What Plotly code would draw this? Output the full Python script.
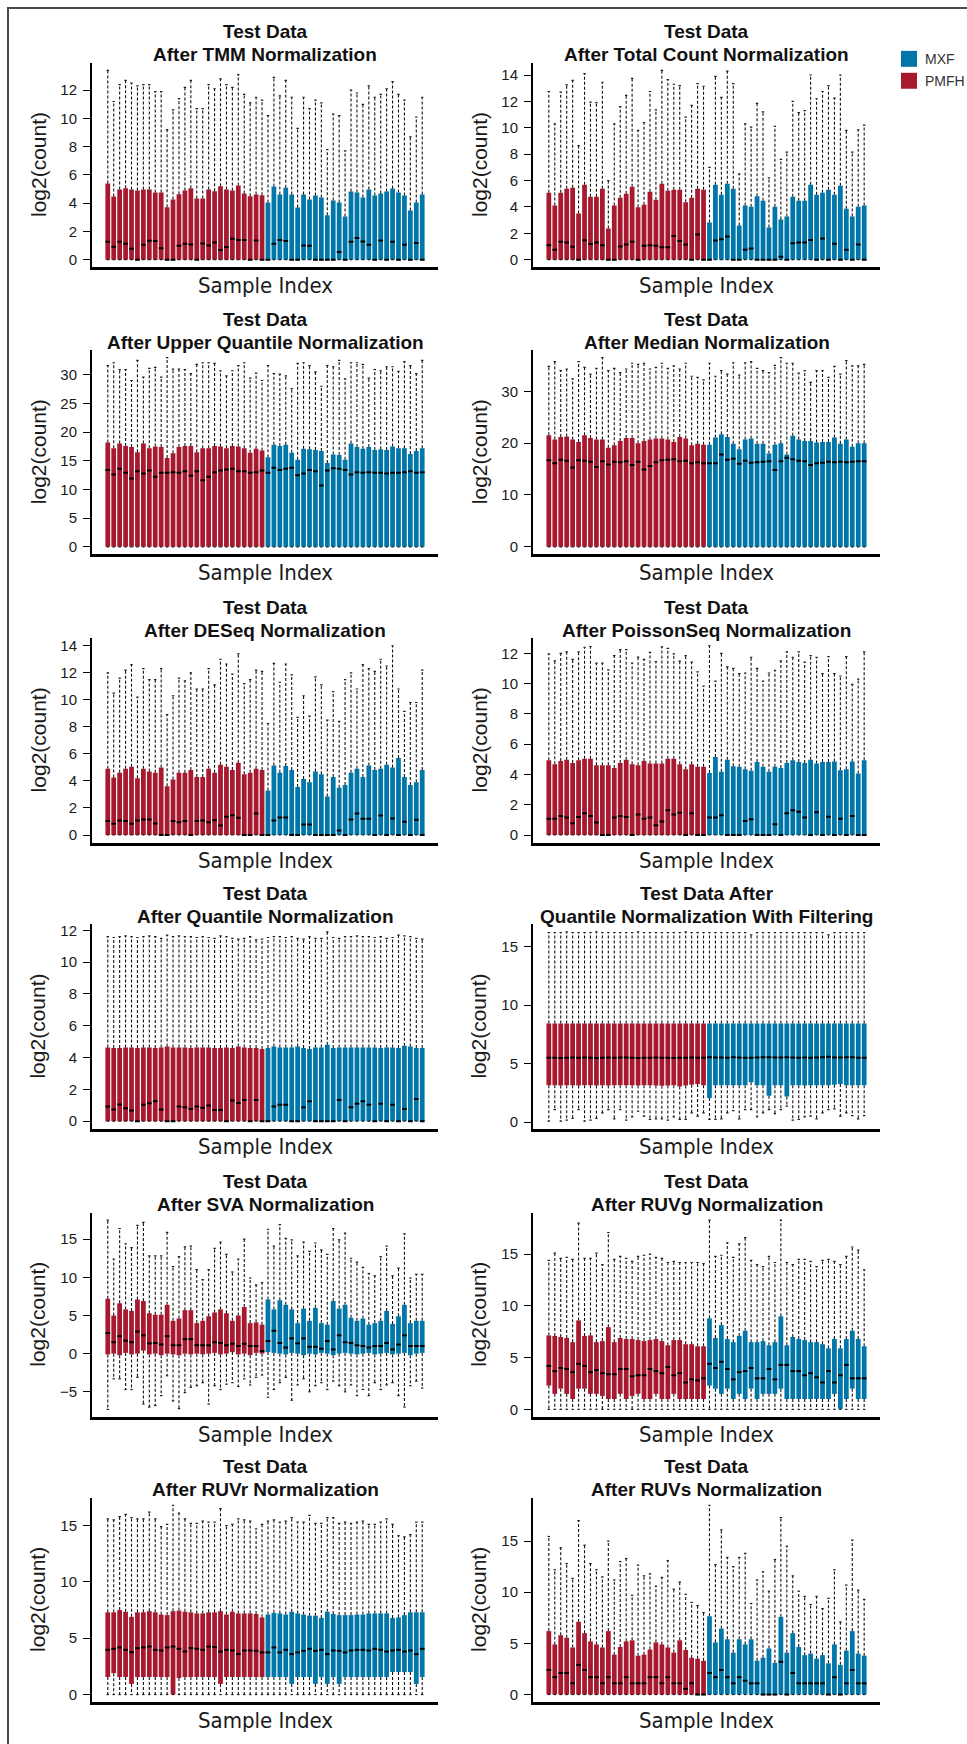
import plotly.graph_objects as go

# ---------------------------------------------------------------------------
# Per-sample box statistics of log2(count) for 27 PMFH and 27 MXF samples.
# Each list holds 27 PMFH values followed by 27 MXF values.
# ---------------------------------------------------------------------------
groups = ["PMFH"] * 27 + ["MXF"] * 27
group_colors = {"PMFH": "#A8182F", "MXF": "#0076A9"}
legend_order = ["MXF", "PMFH"]

zero_floor = [
    0, 0, 0, 0, 0, 0, 0, 0, 0, 0, 0, 0, 0, 0, 0, 0, 0, 0, 0, 0, 0, 0, 0, 0, 0, 0, 0,
    0, 0, 0, 0, 0, 0, 0, 0, 0, 0, 0, 0, 0, 0, 0, 0, 0, 0, 0, 0, 0, 0, 0, 0, 0, 0, 0,
]

# TMM
tmm_upper = [13.4, 11.2, 12.4, 12.7, 12.5, 12.3, 12.4, 12.4, 11.9, 11.9, 9.2, 10.6, 11.4, 12.2, 12.7, 10.7, 10.7, 12.4, 12.1, 12.8, 12.4, 12.2, 13.1, 11.7, 11.1, 11.5, 11.3,
             10.2, 12.9, 11.6, 12.7, 11.5, 9.3, 11.5, 10.7, 11.3, 11.1, 7.8, 10.3, 10.2, 7.7, 12.0, 11.8, 11.0, 12.3, 11.5, 11.7, 12.1, 12.6, 11.7, 11.3, 8.7, 10.1, 11.5]
tmm_q3 = [5.39, 4.47, 4.97, 5.06, 4.96, 4.89, 4.96, 4.96, 4.75, 4.75, 3.72, 4.26, 4.64, 4.89, 5.06, 4.33, 4.33, 4.96, 4.85, 5.20, 4.96, 4.89, 5.25, 4.68, 4.49, 4.61, 4.56,
          4.05, 5.18, 4.61, 5.10, 4.61, 3.69, 4.61, 4.26, 4.54, 4.40, 3.15, 4.19, 4.05, 3.06, 4.82, 4.75, 4.40, 4.96, 4.54, 4.68, 4.82, 5.04, 4.75, 4.54, 3.48, 4.05, 4.61]
tmm_med = [1.27, 0.92, 1.27, 1.13, 0.78, 0.0, 1.06, 1.34, 1.32, 0.80, 0.0, 0.0, 0.99, 1.13, 1.08, 0.0, 1.15, 1.01, 1.22, 0.68, 0.89, 1.48, 1.39, 1.39, 0.0, 1.36, 0.0,
           0.0, 1.13, 1.39, 1.32, 0.0, 0.0, 1.01, 0.99, 0.0, 0.0, 0.0, 0.0, 0.54, 0.0, 1.27, 1.53, 1.29, 1.06, 0.0, 1.36, 0.0, 1.27, 0.0, 1.06, 0.0, 1.18, 0.0]

# Total count
tc_upper = [12.75, 10.3, 12.7, 13.25, 13.6, 8.65, 14.1, 11.95, 11.9, 13.45, 6.0, 10.3, 11.6, 12.45, 13.75, 9.8, 10.4, 12.75, 11.35, 14.35, 13.65, 13.3, 13.2, 10.8, 11.7, 13.35, 13.15,
            7.0, 13.9, 12.3, 14.3, 13.35, 6.5, 10.3, 10.05, 11.85, 11.2, 6.2, 10.1, 7.6, 8.15, 12.0, 11.15, 11.3, 14.0, 12.2, 12.75, 13.2, 12.25, 14.0, 9.8, 8.15, 9.85, 10.2]
tc_q3 = [5.08, 4.10, 5.08, 5.38, 5.45, 3.50, 5.68, 4.77, 4.77, 5.38, 2.36, 4.10, 4.70, 5.00, 5.53, 3.97, 4.17, 5.15, 4.55, 5.75, 5.23, 5.30, 5.30, 4.35, 4.70, 5.38, 5.30,
         2.81, 5.68, 4.92, 5.75, 5.38, 2.59, 4.10, 4.02, 4.80, 4.47, 2.44, 4.02, 3.04, 3.27, 4.77, 4.47, 4.47, 5.68, 4.92, 5.08, 5.30, 4.92, 5.60, 3.87, 3.27, 4.02, 4.10]
tc_med = [1.10, 0.75, 1.35, 1.30, 0.98, 0.0, 1.48, 1.18, 1.30, 1.10, 0.0, 0.0, 1.00, 1.15, 1.36, 0.0, 1.05, 1.10, 1.05, 0.95, 0.95, 1.80, 1.42, 1.15, 0.0, 1.90, 0.0,
          0.0, 1.45, 1.55, 1.75, 0.0, 0.0, 0.75, 0.85, 0.0, 0.0, 0.0, 0.0, 0.22, 0.0, 1.25, 1.30, 1.30, 1.50, 0.0, 1.60, 0.0, 1.20, 0.0, 0.75, 0.0, 1.15, 0.0]

# Upper quantile
uq_upper = [31.6, 32.1, 30.9, 30.9, 29.0, 32.5, 29.6, 31.1, 31.3, 29.6, 33.0, 31.0, 31.0, 30.9, 30.2, 31.8, 32.1, 32.1, 32.0, 30.7, 29.8, 30.7, 31.6, 32.1, 29.4, 30.3, 29.0,
            31.6, 30.2, 30.1, 29.8, 27.6, 32.0, 32.1, 31.6, 30.5, 28.0, 31.6, 31.4, 32.5, 29.3, 32.1, 32.1, 31.8, 29.4, 30.9, 30.7, 31.4, 31.4, 30.6, 32.3, 31.6, 30.2, 32.5]
uq_q3 = [18.2, 17.2, 18.0, 17.6, 17.4, 16.5, 18.0, 17.2, 17.5, 17.4, 15.5, 16.3, 17.4, 17.6, 17.6, 16.5, 17.2, 17.2, 17.6, 17.5, 17.2, 17.6, 17.5, 17.2, 16.4, 17.1, 16.8,
         15.6, 17.8, 17.6, 17.8, 16.4, 15.2, 17.1, 17.0, 16.9, 16.7, 14.6, 16.1, 16.0, 15.2, 18.0, 17.4, 17.1, 17.4, 16.9, 17.0, 16.9, 17.5, 17.2, 17.2, 16.2, 16.7, 17.2]
uq_med = [13.4, 12.6, 13.6, 12.9, 11.9, 13.2, 12.8, 13.3, 12.2, 12.9, 12.9, 13.0, 12.9, 13.2, 12.4, 13.2, 11.6, 12.2, 13.0, 13.3, 13.5, 13.6, 13.2, 13.2, 12.9, 13.0, 13.3,
          12.9, 13.8, 13.4, 13.6, 13.8, 12.5, 12.8, 13.4, 13.2, 10.7, 13.3, 13.7, 13.6, 13.4, 12.6, 13.0, 12.9, 13.0, 12.9, 12.9, 12.8, 12.9, 12.9, 13.0, 13.2, 12.9, 13.0]

# Median
md_upper = [34.8, 35.7, 34.0, 34.3, 32.4, 35.7, 34.6, 33.3, 34.4, 36.5, 34.0, 34.4, 33.6, 34.3, 35.4, 35.2, 35.4, 34.3, 34.6, 35.4, 34.4, 34.9, 34.3, 35.4, 32.9, 32.7, 32.2,
            35.4, 32.9, 34.0, 33.3, 35.5, 33.1, 35.5, 35.7, 34.4, 34.0, 33.6, 35.0, 36.5, 35.4, 35.4, 33.5, 34.0, 31.7, 34.0, 34.0, 32.7, 34.8, 33.3, 35.9, 34.9, 34.9, 35.2]
md_q3 = [21.5, 20.7, 21.2, 21.3, 20.7, 20.2, 21.5, 21.0, 20.7, 20.7, 19.1, 19.6, 20.4, 21.0, 21.0, 20.0, 20.4, 20.7, 20.9, 20.9, 20.7, 20.2, 21.2, 20.9, 19.6, 19.9, 19.7,
         19.7, 21.1, 21.7, 21.2, 19.9, 18.8, 20.7, 20.9, 19.9, 19.9, 18.0, 19.7, 20.0, 17.8, 21.4, 20.7, 20.4, 20.4, 20.1, 20.2, 20.2, 21.1, 19.9, 20.7, 19.3, 20.0, 20.0]
md_med = [16.7, 16.1, 16.8, 16.6, 15.3, 16.7, 16.6, 16.4, 15.4, 16.5, 15.9, 16.4, 16.3, 16.5, 15.8, 16.4, 14.9, 15.6, 16.3, 16.7, 16.8, 16.9, 16.5, 16.6, 16.1, 16.3, 16.1,
          16.1, 16.1, 17.8, 16.8, 17.0, 16.0, 16.6, 16.2, 16.3, 16.4, 16.5, 14.8, 16.5, 17.2, 16.9, 16.6, 16.5, 15.8, 16.1, 16.2, 16.4, 16.3, 16.4, 16.3, 16.4, 16.5, 16.5]

# DESeq
de_upper = [12.0, 10.5, 11.6, 12.2, 12.6, 10.2, 12.3, 11.5, 11.5, 12.3, 8.9, 10.3, 11.6, 11.4, 12.0, 10.8, 10.8, 12.3, 11.1, 13.0, 12.65, 11.9, 13.4, 11.2, 11.5, 12.2, 12.1,
            8.25, 12.7, 11.3, 12.65, 11.85, 8.7, 10.3, 8.8, 11.7, 11.1, 8.5, 10.6, 8.4, 11.5, 12.0, 10.8, 12.6, 12.3, 12.1, 13.0, 12.5, 14.0, 10.8, 9.15, 9.8, 9.8, 12.2]
de_q3 = [4.9, 4.25, 4.6, 4.9, 5.05, 4.2, 4.9, 4.7, 4.6, 5.0, 3.6, 4.1, 4.6, 4.6, 4.8, 4.3, 4.3, 4.9, 4.6, 5.2, 5.05, 4.8, 5.35, 4.5, 4.6, 4.9, 4.8,
         3.3, 5.15, 4.6, 5.1, 4.8, 3.55, 4.15, 3.9, 4.7, 4.5, 2.85, 4.3, 3.5, 3.7, 4.6, 4.9, 4.3, 5.15, 4.8, 4.9, 5.2, 5.0, 5.7, 4.3, 3.7, 3.9, 4.8]
de_med = [1.03, 0.83, 1.08, 1.03, 0.83, 1.08, 1.15, 1.15, 0.86, 0.0, 0.0, 1.03, 0.95, 1.03, 0.0, 1.03, 1.08, 0.95, 1.10, 0.71, 1.35, 1.47, 1.27, 0.0, 0.0, 1.60, 0.0,
          0.0, 1.08, 1.30, 1.30, 0.0, 0.0, 0.78, 0.78, 0.0, 0.0, 0.0, 0.0, 0.34, 0.0, 1.15, 1.60, 1.20, 1.20, 0.0, 1.45, 0.0, 1.22, 0.0, 0.98, 0.0, 1.13, 0.0]

# PoissonSeq
ps_upper = [11.96, 11.5, 12.0, 12.1, 11.6, 12.1, 12.4, 12.45, 11.35, 11.35, 10.9, 11.85, 12.25, 12.25, 11.35, 11.75, 11.6, 12.06, 11.46, 12.43, 12.32, 11.96, 11.48, 11.85, 11.42, 10.77, 9.84,
            12.5, 10.16, 12.0, 11.1, 11.0, 10.66, 10.7, 11.74, 11.0, 10.16, 10.7, 10.88, 11.5, 12.1, 11.74, 12.1, 11.42, 11.85, 11.74, 10.66, 11.78, 10.66, 10.5, 11.78, 9.95, 10.3, 12.1]
ps_q3 = [4.93, 4.67, 4.89, 4.97, 4.76, 4.93, 5.04, 5.04, 4.6, 4.6, 4.6, 4.43, 4.76, 4.97, 4.67, 4.6, 4.89, 4.72, 4.72, 4.72, 5.04, 5.04, 4.67, 4.35, 4.67, 4.5, 4.5,
         4.1, 5.15, 4.17, 4.97, 4.54, 4.5, 4.35, 4.24, 4.82, 4.5, 4.17, 4.5, 4.43, 4.76, 4.93, 4.82, 4.76, 4.97, 4.72, 4.82, 4.82, 4.86, 4.28, 4.35, 4.86, 4.06, 4.93]
ps_med = [1.08, 1.08, 1.25, 1.15, 0.78, 1.19, 1.43, 1.25, 0.82, 0.0, 0.0, 1.15, 1.25, 1.19, 0.0, 1.36, 1.08, 1.15, 0.65, 0.89, 1.64, 1.36, 1.47, 0.0, 1.43, 0.0, 0.0,
          1.15, 1.15, 1.30, 0.0, 0.0, 0.0, 0.93, 1.04, 0.0, 0.0, 0.0, 0.71, 0.0, 1.43, 1.64, 1.54, 1.15, 0.0, 1.51, 0.0, 1.21, 0.0, 1.08, 0.0, 1.25, 0.0, 0.0]

# Quantile
qn_upper = [11.6, 11.55, 11.6, 11.65, 11.6, 11.55, 11.6, 11.65, 11.6, 11.5, 11.7, 11.6, 11.65, 11.6, 11.6, 11.55, 11.6, 11.55, 11.5, 11.65, 11.6, 11.5, 11.45, 11.5, 11.6, 11.4, 11.45,
            11.55, 11.6, 11.6, 11.55, 11.6, 11.5, 11.45, 11.6, 11.5, 11.5, 11.9, 11.55, 11.5, 11.6, 11.6, 11.65, 11.6, 11.6, 11.55, 11.6, 11.5, 11.55, 11.7, 11.65, 11.6, 11.5, 11.45]
qn_q3 = [4.64, 4.60, 4.60, 4.64, 4.64, 4.60, 4.64, 4.64, 4.60, 4.64, 4.69, 4.64, 4.64, 4.64, 4.60, 4.64, 4.64, 4.64, 4.60, 4.60, 4.64, 4.60, 4.69, 4.64, 4.60, 4.60, 4.54,
         4.60, 4.69, 4.64, 4.64, 4.64, 4.69, 4.60, 4.54, 4.64, 4.64, 4.81, 4.60, 4.64, 4.64, 4.64, 4.64, 4.64, 4.64, 4.64, 4.60, 4.64, 4.64, 4.60, 4.75, 4.69, 4.60, 4.60]
qn_med = [0.92, 0.73, 1.05, 0.82, 0.67, 0.0, 1.03, 1.13, 1.26, 0.73, 0.0, 0.0, 0.92, 0.88, 0.77, 0.92, 0.84, 0.98, 0.71, 0.71, 0.0, 1.30, 1.15, 1.34, 0.0, 1.34, 0.0,
          0.0, 0.92, 1.03, 1.03, 0.0, 0.0, 0.88, 1.26, 0.0, 0.0, 0.0, 0.0, 1.34, 0.0, 0.88, 1.09, 1.26, 1.03, 0.0, 1.09, 0.0, 1.03, 0.0, 0.77, 0.0, 1.40, 0.0]

# Quantile with filtering
qf_upper = [16.2, 16.2, 16.2, 16.25, 16.2, 16.2, 16.2, 16.2, 16.25, 16.2, 16.2, 16.2, 16.2, 16.2, 16.2, 16.25, 16.2, 16.2, 16.2, 16.2, 16.2, 16.2, 16.2, 16.25, 16.2, 16.2, 16.2,
            16.2, 16.2, 16.2, 16.2, 16.2, 16.2, 16.2, 16.0, 16.2, 16.2, 16.2, 16.2, 16.2, 16.2, 16.2, 16.2, 16.2, 16.2, 16.2, 16.2, 16.0, 16.2, 16.2, 16.2, 16.2, 16.2, 16.2]
qf_q3 = [8.43, 8.42, 8.42, 8.43, 8.42, 8.42, 8.42, 8.43, 8.42, 8.42, 8.42, 8.42, 8.43, 8.42, 8.42, 8.42, 8.42, 8.43, 8.42, 8.42, 8.42, 8.42, 8.42, 8.43, 8.42, 8.42, 8.42,
         8.42, 8.43, 8.42, 8.42, 8.42, 8.43, 8.42, 8.42, 8.42, 8.43, 8.42, 8.42, 8.42, 8.42, 8.43, 8.42, 8.42, 8.42, 8.43, 8.42, 8.42, 8.42, 8.42, 8.43, 8.42, 8.42, 8.42]
qf_med = [5.50, 5.50, 5.48, 5.50, 5.52, 5.50, 5.52, 5.50, 5.48, 5.50, 5.52, 5.50, 5.52, 5.52, 5.50, 5.48, 5.50, 5.50, 5.52, 5.50, 5.50, 5.48, 5.50, 5.50, 5.52, 5.50, 5.50,
          5.55, 5.52, 5.52, 5.50, 5.55, 5.52, 5.50, 5.50, 5.52, 5.55, 5.55, 5.52, 5.52, 5.55, 5.52, 5.50, 5.52, 5.50, 5.52, 5.55, 5.58, 5.52, 5.52, 5.55, 5.55, 5.50, 5.50]
qf_q1 = [3.14, 3.14, 3.12, 3.14, 3.14, 3.12, 3.14, 3.14, 3.12, 3.14, 3.12, 3.14, 3.14, 3.16, 3.14, 3.12, 3.14, 3.16, 3.12, 3.10, 3.12, 3.14, 3.05, 3.12, 3.20, 3.25, 3.14,
         2.06, 3.14, 3.14, 3.14, 3.14, 3.14, 3.14, 3.40, 3.14, 3.14, 2.26, 3.14, 3.14, 2.20, 3.14, 3.14, 3.12, 3.14, 3.14, 3.14, 3.14, 3.20, 3.25, 3.14, 3.14, 3.14, 3.14]
qf_lower = [0.08, 1.07, 0.08, 0.17, 0.31, 1.07, 0.08, 0.17, 0.31, 0.79, 1.07, 0.28, 1.07, 0.17, 0.45, 0.93, 0.51, 0.23, 0.28, 0.28, 0.17, 0.45, 0.23, 0.23, 0.79, 0.51, 0.79,
            0.23, 0.23, 0.28, 0.79, 0.99, 0.28, 1.07, 1.07, 0.45, 0.79, 1.07, 0.73, 1.07, 1.36, 0.17, 0.23, 0.45, 0.51, 0.28, 0.79, 1.07, 1.13, 0.51, 0.79, 0.56, 0.28, 0.56]

# SVA
sva_upper = [17.5, 12.4, 16.4, 14.4, 13.9, 16.8, 17.2, 12.8, 12.8, 12.8, 15.9, 11.4, 12.7, 14.0, 14.1, 11.0, 9.7, 11.0, 13.8, 14.6, 13.0, 10.7, 12.4, 15.0, 9.9, 9.0, 9.3,
             16.3, 14.1, 16.9, 15.1, 14.9, 12.8, 14.6, 13.4, 14.5, 13.6, 13.0, 16.4, 14.9, 15.8, 12.5, 12.0, 11.3, 10.5, 10.2, 12.7, 14.1, 10.2, 11.2, 15.7, 9.9, 10.4, 10.4]
sva_q3 = [7.2, 5.0, 6.6, 5.8, 5.6, 7.1, 6.9, 5.3, 5.1, 5.1, 6.4, 4.3, 4.6, 5.7, 5.7, 4.0, 4.3, 4.9, 5.4, 5.8, 5.3, 4.3, 5.0, 6.1, 4.0, 4.1, 3.8,
          7.1, 5.8, 7.0, 6.4, 5.8, 4.0, 5.9, 4.3, 6.0, 4.0, 3.8, 6.9, 5.9, 6.4, 4.7, 4.3, 4.6, 3.8, 4.0, 4.3, 5.6, 3.9, 4.9, 6.4, 4.0, 4.3, 4.3]
sva_med = [2.7, 1.5, 2.3, 1.7, 1.5, 2.9, 2.4, 1.35, 1.4, 1.2, 2.3, 1.1, 1.1, 1.9, 1.9, 1.1, 1.1, 1.1, 1.5, 1.4, 1.1, 1.3, 1.0, 1.3, 1.0, 1.0, 0.35,
           1.65, 3.0, 1.4, 0.8, 2.0, 1.35, 2.0, 0.9, 0.9, 0.65, 1.65, 0.55, 2.4, 1.5, 1.4, 1.1, 1.0, 0.8, 1.0, 1.0, 1.4, 0.55, 1.2, 2.4, 1.0, 1.0, 1.0]
sva_q1 = [-0.1, 0.0, -0.2, 0.1, -0.1, 0.0, 0.4, -0.1, 0.0, -0.2, 0.0, -0.1, -0.2, 0.0, -0.1, 0.0, -0.1, 0.0, 0.1, -0.1, 0.0, 0.2, -0.1, 0.0, -0.2, 0.1, 0.0,
          0.2, 0.1, 0.0, -0.1, 0.1, 0.0, -0.2, 0.0, -0.1, 0.1, 0.0, -0.2, 0.0, 0.1, 0.0, -0.1, 0.0, 0.1, -0.1, 0.0, 0.1, -0.1, 0.0, 0.1, -0.2, 0.0, 0.1]
sva_lower = [-7.3, -3.3, -3.3, -4.7, -4.7, -3.1, -6.6, -7.0, -6.8, -5.5, -2.9, -6.2, -7.2, -5.1, -4.4, -4.2, -3.8, -6.6, -4.2, -4.7, -4.0, -3.8, -4.3, -3.3, -4.1, -3.1, -2.8,
             -5.7, -4.7, -3.8, -3.1, -6.1, -4.1, -3.3, -5.0, -4.2, -3.8, -4.7, -3.6, -4.2, -5.0, -4.1, -5.5, -4.7, -5.5, -3.8, -4.7, -4.1, -3.8, -5.5, -7.0, -4.2, -3.6, -4.5]

# RUVg
rg_upper = [14.4, 15.1, 14.6, 14.7, 14.5, 18.0, 14.6, 14.6, 15.1, 14.0, 17.1, 14.5, 14.8, 14.6, 14.3, 14.8, 14.9, 15.0, 14.7, 14.6, 14.2, 14.3, 14.2, 14.2, 14.2, 14.2, 14.1,
            18.3, 14.8, 14.9, 16.1, 14.7, 16.0, 16.6, 14.4, 14.0, 13.8, 14.8, 14.2, 18.3, 14.2, 14.0, 14.5, 14.5, 14.3, 13.8, 14.4, 14.5, 14.3, 14.0, 14.8, 15.7, 15.4, 13.5]
rg_q3 = [7.15, 7.1, 7.0, 6.9, 6.5, 8.6, 7.1, 7.15, 6.5, 6.6, 7.95, 6.5, 6.9, 6.8, 6.8, 6.7, 6.6, 6.7, 6.8, 6.6, 6.2, 6.7, 6.7, 6.3, 6.3, 6.1, 6.1,
         8.8, 6.9, 8.15, 6.8, 6.5, 7.1, 7.6, 6.5, 6.5, 6.6, 6.2, 6.5, 9.0, 6.2, 7.0, 6.8, 6.7, 6.5, 6.5, 6.3, 5.9, 6.8, 5.9, 6.8, 7.6, 6.8, 6.1]
rg_med = [4.2, 3.7, 4.0, 3.9, 3.6, 4.4, 4.2, 3.6, 3.8, 3.5, 3.4, 3.4, 3.9, 3.9, 3.2, 3.3, 3.3, 3.9, 3.7, 3.5, 4.1, 3.3, 3.5, 2.6, 2.9, 2.8, 3.0,
          4.4, 4.0, 4.6, 3.9, 2.9, 3.6, 3.7, 4.0, 3.0, 3.0, 3.9, 2.9, 4.3, 4.3, 3.7, 3.7, 3.3, 3.5, 3.1, 2.6, 3.7, 2.6, 3.3, 4.3, 3.0, 3.0, 3.0]
rg_q1 = [2.3, 1.5, 2.0, 1.5, 1.0, 2.0, 2.0, 1.5, 1.5, 1.3, 1.0, 1.0, 1.5, 1.0, 1.3, 1.5, 1.0, 1.0, 1.5, 1.0, 1.0, 1.5, 1.0, 1.0, 1.0, 1.0, 1.0,
         2.3, 2.0, 1.5, 2.0, 1.0, 1.5, 1.0, 2.0, 1.0, 1.5, 1.5, 1.5, 2.0, 1.0, 1.0, 1.0, 1.0, 1.0, 1.0, 1.0, 1.0, 1.5, 0.05, 1.0, 2.0, 1.0, 1.0]

# RUVr
rr_upper = [15.6, 15.5, 15.8, 16.0, 15.7, 15.6, 15.6, 16.2, 15.6, 14.9, 15.1, 16.8, 16.1, 15.6, 15.2, 15.2, 15.4, 15.3, 15.3, 16.5, 15.0, 15.1, 15.6, 15.5, 15.4, 14.7, 15.1,
            15.4, 15.5, 15.3, 15.4, 15.7, 15.3, 15.3, 15.9, 15.2, 15.2, 15.7, 15.7, 15.2, 15.3, 15.2, 15.3, 15.4, 15.1, 15.1, 15.3, 15.6, 15.1, 14.1, 14.0, 14.2, 15.3, 15.3]
rr_q3 = [7.3, 7.3, 7.5, 7.35, 6.9, 7.3, 7.3, 7.4, 7.3, 7.1, 7.05, 7.4, 7.45, 7.35, 7.3, 7.2, 7.2, 7.3, 7.3, 7.4, 7.1, 7.35, 7.2, 7.2, 7.2, 7.15, 6.85,
         7.1, 7.25, 7.2, 7.1, 7.35, 7.2, 7.1, 7.0, 7.0, 6.8, 7.35, 7.15, 7.05, 7.05, 7.05, 7.1, 7.1, 7.2, 7.2, 7.2, 7.2, 6.8, 6.85, 7.05, 7.3, 7.3, 7.3]
rr_med = [3.97, 4.06, 4.18, 3.97, 3.76, 4.12, 4.18, 4.26, 3.97, 3.91, 4.18, 4.26, 4.06, 3.82, 4.12, 4.06, 3.97, 4.26, 4.21, 3.82, 3.97, 3.91, 3.59, 3.91, 3.91, 3.88, 3.74,
          3.74, 4.18, 3.74, 3.97, 3.59, 3.74, 3.88, 4.06, 3.88, 3.97, 3.59, 3.91, 3.88, 3.74, 3.91, 3.97, 3.97, 3.91, 4.06, 3.97, 3.82, 3.91, 3.97, 3.82, 3.91, 3.59, 4.06]
rr_q1 = [1.56, 1.9, 1.56, 1.56, 0.94, 1.56, 1.56, 1.56, 1.56, 1.56, 1.56, 0.0, 1.47, 1.56, 1.56, 1.56, 1.56, 1.56, 1.56, 0.94, 1.56, 1.56, 1.56, 1.56, 1.56, 1.56, 1.56,
         1.56, 1.56, 1.56, 1.56, 0.94, 1.56, 1.56, 1.56, 0.94, 1.56, 0.94, 1.56, 0.94, 1.56, 1.56, 1.56, 1.56, 1.56, 1.56, 1.56, 1.56, 2.0, 2.0, 2.0, 2.0, 0.94, 1.56]

# RUVs
rs_upper = [15.45, 12.2, 14.35, 12.8, 11.35, 17.0, 14.6, 12.8, 12.2, 11.5, 15.0, 11.2, 13.0, 13.3, 9.7, 12.65, 11.6, 11.8, 10.6, 11.45, 13.1, 10.3, 11.0, 9.8, 9.0, 8.7, 8.0,
            18.5, 12.7, 16.1, 13.4, 12.5, 13.4, 13.8, 8.9, 11.2, 12.0, 10.1, 13.2, 17.3, 14.5, 11.6, 10.1, 9.6, 8.8, 9.6, 8.4, 9.4, 12.2, 7.1, 10.7, 15.1, 10.2, 9.3]
rs_q3 = [6.2, 4.9, 5.8, 5.55, 4.6, 7.1, 6.0, 5.2, 4.9, 4.6, 6.2, 3.9, 4.65, 5.2, 5.3, 3.8, 3.9, 4.4, 5.1, 4.9, 4.6, 4.1, 5.3, 4.35, 3.6, 3.5, 3.3,
         7.65, 5.1, 6.45, 5.4, 4.1, 5.4, 4.9, 5.4, 3.3, 3.6, 4.5, 3.1, 7.6, 4.1, 6.0, 4.65, 3.85, 4.0, 3.5, 3.85, 3.05, 4.9, 2.9, 4.3, 6.2, 4.0, 3.8]
rs_med = [2.4, 1.7, 2.1, 2.1, 1.1, 2.9, 2.4, 1.7, 1.7, 1.1, 1.7, 1.1, 1.1, 1.7, 1.1, 1.1, 1.1, 1.7, 1.7, 1.1, 1.7, 1.1, 1.1, 0.55, 1.1, 0.0, 0.0,
          2.1, 1.7, 2.4, 1.7, 1.1, 1.7, 1.35, 1.1, 1.1, 0.0, 0.0, 0.0, 3.2, 0.0, 2.1, 1.1, 1.1, 1.1, 1.1, 1.1, 0.0, 1.7, 0.0, 1.1, 2.4, 1.1, 1.1]

# (title line 1, title line 2, lower whisker, Q1, median, Q3, upper whisker, tick step)
panels = [
    ("Test Data", "After TMM Normalization", zero_floor, zero_floor, tmm_med, tmm_q3, tmm_upper, 2),
    ("Test Data", "After Total Count Normalization", zero_floor, zero_floor, tc_med, tc_q3, tc_upper, 2),
    ("Test Data", "After Upper Quantile Normalization", zero_floor, zero_floor, uq_med, uq_q3, uq_upper, 5),
    ("Test Data", "After Median Normalization", zero_floor, zero_floor, md_med, md_q3, md_upper, 10),
    ("Test Data", "After DESeq Normalization", zero_floor, zero_floor, de_med, de_q3, de_upper, 2),
    ("Test Data", "After PoissonSeq Normalization", zero_floor, zero_floor, ps_med, ps_q3, ps_upper, 2),
    ("Test Data", "After Quantile Normalization", zero_floor, zero_floor, qn_med, qn_q3, qn_upper, 2),
    ("Test Data After", "Quantile Normalization With Filtering", qf_lower, qf_q1, qf_med, qf_q3, qf_upper, 5),
    ("Test Data", "After SVA Normalization", sva_lower, sva_q1, sva_med, sva_q3, sva_upper, 5),
    ("Test Data", "After RUVg Normalization", zero_floor, rg_q1, rg_med, rg_q3, rg_upper, 5),
    ("Test Data", "After RUVr Normalization", zero_floor, rr_q1, rr_med, rr_q3, rr_upper, 5),
    ("Test Data", "After RUVs Normalization", zero_floor, zero_floor, rs_med, rs_q3, rs_upper, 5),
]

# ---------------------------------------------------------------------------
# Page geometry (pixels)
# ---------------------------------------------------------------------------
W, H = 967, 1744
COL_X = [(92, 438), (533, 880)]
ROW_BOTTOM = [265, 553, 842, 1129, 1418, 1704]
PLOT_H = 205
BOX_W = 0.8
CAP_HALF = 0.2

FONT_PLAIN = "Liberation Sans, Arial, Helvetica, sans-serif"
FONT_NARROW = "Liberation Sans Narrow, Arial Narrow, DejaVu Sans Condensed, sans-serif"
INK = "#1a1a1a"


def px_x(v):
    return v / W


def px_y(v):
    return 1 - v / H


n = len(groups)
positions = list(range(1, n + 1))
x_range = [0.5 - 0.04 * n, n + 0.5 + 0.04 * n]

fig = go.Figure()
annotations = []
shapes = []

for i, (t1, t2, lower, q1, med, q3, upper, step) in enumerate(panels):
    for arr in (lower, q1, med, q3, upper):
        assert len(arr) == n
    row, col = divmod(i, 2)
    suffix = "" if i == 0 else str(i + 1)
    xref, yref = "x" + suffix, "y" + suffix
    x0, x1 = COL_X[col]
    y_bot = ROW_BOTTOM[row]
    y_top = y_bot - PLOT_H

    # boxes, one trace per group
    for g in ["PMFH", "MXF"]:
        idx = [k for k in range(n) if groups[k] == g]
        fig.add_trace(go.Bar(
            x=[positions[k] for k in idx],
            y=[q3[k] - q1[k] for k in idx],
            base=[q1[k] for k in idx],
            width=BOX_W,
            marker=dict(color=group_colors[g], line=dict(width=0)),
            xaxis=xref, yaxis=yref, showlegend=False, hoverinfo="skip",
        ))

    # dashed whiskers
    wx, wy = [], []
    for k in range(n):
        p = positions[k]
        wx += [p, p, None, p, p, None]
        wy += [q3[k], upper[k], None, q1[k], lower[k], None]
    fig.add_trace(go.Scatter(
        x=wx, y=wy, mode="lines",
        line=dict(color="#111111", width=1.1, dash="3px,2px"),
        xaxis=xref, yaxis=yref, showlegend=False, hoverinfo="skip",
    ))

    # whisker caps
    cx, cy = [], []
    for k in range(n):
        p = positions[k]
        for v in (upper[k], lower[k]):
            cx += [p - CAP_HALF, p + CAP_HALF, None]
            cy += [v, v, None]
    fig.add_trace(go.Scatter(
        x=cx, y=cy, mode="lines", line=dict(color=INK, width=1.2),
        xaxis=xref, yaxis=yref, showlegend=False, hoverinfo="skip",
    ))

    # medians
    mx, my = [], []
    for k in range(n):
        p = positions[k]
        mx += [p - BOX_W / 2, p + BOX_W / 2, None]
        my += [med[k], med[k], None]
    fig.add_trace(go.Scatter(
        x=mx, y=my, mode="lines", line=dict(color="#000000", width=2),
        xaxis=xref, yaxis=yref, showlegend=False, hoverinfo="skip",
    ))

    lo, hi = min(lower), max(upper)
    pad = 0.04 * (hi - lo)

    fig.layout["xaxis" + suffix] = dict(
        domain=[px_x(x0), px_x(x1)], anchor=yref, range=x_range,
        showline=True, linecolor="#000000", linewidth=3,
        showticklabels=False, ticks="", showgrid=False, zeroline=False,
        fixedrange=True,
    )
    fig.layout["yaxis" + suffix] = dict(
        domain=[px_y(y_bot), px_y(y_top)], anchor=xref, range=[lo - pad, hi + pad],
        showline=True, linecolor="#000000", linewidth=2,
        ticks="outside", ticklen=7, tickwidth=1, tickcolor="#000000",
        tickmode="linear", tick0=0, dtick=step,
        tickfont=dict(family=FONT_PLAIN, size=15, color=INK),
        ticklabelstandoff=3,
        showgrid=False, zeroline=False, fixedrange=True,
    )

    xc = (x0 + x1) / 2
    annotations += [
        dict(text="<b>%s</b>" % t1, x=px_x(xc), y=px_y(y_bot - 236), xref="paper", yref="paper",
             xanchor="center", yanchor="middle", showarrow=False,
             font=dict(family=FONT_PLAIN, size=19, color="#111111")),
        dict(text="<b>%s</b>" % t2, x=px_x(xc), y=px_y(y_bot - 213), xref="paper", yref="paper",
             xanchor="center", yanchor="middle", showarrow=False,
             font=dict(family=FONT_PLAIN, size=19, color="#111111")),
        dict(text="Sample Index", x=px_x(xc), y=px_y(y_bot + 18), xref="paper", yref="paper",
             xanchor="center", yanchor="middle", showarrow=False,
             font=dict(family=FONT_NARROW, size=22, color=INK)),
        dict(text="log2(count)", x=px_x(x0 - 54), y=px_y(y_bot - PLOT_H / 2), xref="paper", yref="paper",
             xanchor="center", yanchor="middle", showarrow=False, textangle=-90,
             font=dict(family=FONT_PLAIN, size=21, color=INK)),
    ]

# legend swatches
for j, g in enumerate(legend_order):
    top = 48 + j * 22
    shapes.append(dict(type="rect", xref="paper", yref="paper",
                       x0=px_x(901), x1=px_x(917), y0=px_y(top + 16), y1=px_y(top),
                       fillcolor=group_colors[g], line=dict(width=0)))
    annotations.append(dict(text=g, x=px_x(923), y=px_y(top + 8), xref="paper", yref="paper",
                            xanchor="left", yanchor="middle", showarrow=False,
                            font=dict(family=FONT_PLAIN, size=14, color="#333333")))

# page frame
shapes.append(dict(type="rect", xref="paper", yref="paper",
                   x0=px_x(8), x1=1.05, y0=-0.05, y1=px_y(5),
                   line=dict(color="#4a4a4a", width=2), fillcolor="rgba(0,0,0,0)", layer="below"))

fig.update_layout(
    width=W, height=H, autosize=False,
    margin=dict(l=0, r=0, t=0, b=0, pad=0),
    paper_bgcolor="#ffffff", plot_bgcolor="#ffffff",
    barmode="overlay", showlegend=False,
    annotations=annotations, shapes=shapes,
)

fig.write_html("out.html")
